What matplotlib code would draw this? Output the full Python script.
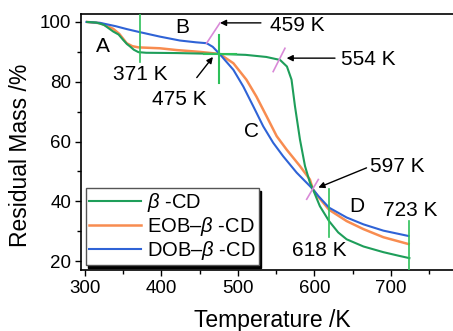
import matplotlib
matplotlib.use('Agg')
import matplotlib.pyplot as plt
from matplotlib.ticker import MultipleLocator

plt.rcParams['font.family'] = ['Liberation Sans', 'DejaVu Sans']
plt.rcParams['mathtext.fontset'] = 'custom'
plt.rcParams['mathtext.it'] = 'Liberation Sans:italic'

# beta-CD
temp_cd = [303, 315, 325, 337, 344, 350, 355, 359, 364, 370, 380, 420, 476, 510,
           537, 555, 564, 570, 574.5, 581, 587.6, 594, 598, 607, 619, 631, 642,
           664, 690, 710, 724]
mass_cd = [100, 99.8, 99.0, 96.8, 95.8, 94.0, 92.6, 91.8, 90.7, 89.9, 89.7, 89.6,
           89.3, 89.0, 88.3, 87.3, 85.1, 80.7, 71.8, 60.7, 51.8, 46.3, 44.0, 38.4,
           33.4, 29.6, 27.3, 24.9, 23.0, 21.8, 21.0]

# EOB-beta-CD
temp_eob = [303, 320, 337, 345, 354.5, 362, 370, 398, 420, 450, 476, 494, 511,
            524, 537.5, 550.6, 563.6, 581, 594, 598, 605, 619, 642, 664, 690, 723]
mass_eob = [100, 99.6, 97.7, 96.0, 92.9, 91.9, 91.5, 91.2, 90.6, 90.0, 89.3,
            86.2, 80.7, 75.1, 68.4, 61.8, 57.3, 51.8, 47.3, 44.0, 41.5, 37.2,
            33.4, 30.7, 28.0, 25.7]

# DOB-beta-CD
temp_dob = [302, 320, 340, 355, 370, 398, 424, 445, 459, 467, 476, 494, 507,
            520, 533, 546, 559, 576.7, 594, 598, 605, 619, 642, 664, 690, 723]
mass_dob = [100, 99.7, 98.6, 97.6, 96.7, 95.1, 93.8, 93.2, 92.9, 91.7, 89.3,
            84.0, 78.4, 71.8, 65.1, 59.6, 55.1, 49.6, 45.1, 44.0, 41.8, 37.9,
            34.6, 32.3, 30.2, 28.4]

series_labels = ['$\\beta$ -CD', 'EOB\u2013$\\beta$ -CD', 'DOB\u2013$\\beta$ -CD']

green = '#1e9e5a'
orange = '#f88c50'
blue = '#2f63d6'
pink = '#d98ad8'
mark_green = '#2ec05a'

fig = plt.figure(figsize=(4.53, 3.31), dpi=100)
ax = fig.add_axes([0.179, 0.184, 0.821, 0.774])

ax.plot(temp_cd, mass_cd, color=green, lw=1.5, label=series_labels[0], zorder=3)
ax.plot(temp_eob, mass_eob, color=orange, lw=1.8, label=series_labels[1], zorder=2)
ax.plot(temp_dob, mass_dob, color=blue, lw=1.5, label=series_labels[2], zorder=2)

# marker lines
ax.plot([372, 372], [86.6, 102.7], color=mark_green, lw=1.2, zorder=4)
ax.plot([475.5, 475.5], [79.7, 95.7], color=mark_green, lw=1.5, zorder=4)
ax.plot([455, 497], [89.3, 89.3], color=mark_green, lw=1.5, zorder=4)
ax.plot([619.4, 619.4], [28.0, 44.0], color=mark_green, lw=1.2, zorder=4)
ax.plot([724, 724], [17, 33.4], color=mark_green, lw=1.2, zorder=4)
ax.plot([459, 476.5], [92.9, 99.7], color=pink, lw=1.2, zorder=4)
ax.plot([546, 561.4], [83.4, 91.2], color=pink, lw=1.2, zorder=4)
ax.plot([589.8, 605], [40.7, 47.3], color=pink, lw=1.2, zorder=4)

fs = 15
ax.text(323.5, 91.7, 'A', fontsize=fs, ha='center', va='center')
ax.text(427, 98, 'B', fontsize=fs, ha='center', va='center')
ax.text(518, 63.4, 'C', fontsize=fs, ha='center', va='center')
ax.text(655, 38.4, 'D', fontsize=fs, ha='center', va='center')
ax.text(373, 82.3, '371 K', fontsize=fs, ha='center', va='center')
ax.text(606, 23.7, '618 K', fontsize=fs, ha='center', va='center')
ax.text(725, 37.1, '723 K', fontsize=fs, ha='center', va='center')

arrow = dict(arrowstyle='-|>', color='black', lw=1.0, mutation_scale=9)
ax.annotate('475 K', xy=(467.3, 88.3), xytext=(423.5, 74), fontsize=fs,
            ha='center', va='center', arrowprops=dict(arrow, shrinkA=9, shrinkB=0))
ax.annotate('', xy=(476.5, 99.7), xytext=(530, 99.7), arrowprops=dict(arrow, shrinkA=0, shrinkB=0))
ax.text(577.8, 98.7, '459 K', fontsize=fs, ha='center', va='center')
ax.annotate('', xy=(563.6, 87.9), xytext=(626.8, 87.9), arrowprops=dict(arrow, shrinkA=0, shrinkB=0))
ax.text(670, 87.3, '554 K', fontsize=fs, ha='center', va='center')
ax.annotate('', xy=(605, 44.6), xytext=(668, 51.2), arrowprops=dict(arrow, shrinkA=0, shrinkB=0))
ax.text(708.5, 51.6, '597 K', fontsize=fs, ha='center', va='center')

ax.set_xlim(295, 781)
ax.set_ylim(17, 102.7)
ax.xaxis.set_major_locator(MultipleLocator(100))
ax.xaxis.set_minor_locator(MultipleLocator(50))
ax.yaxis.set_major_locator(MultipleLocator(20))
ax.yaxis.set_minor_locator(MultipleLocator(10))
ax.tick_params(which='both', direction='out', top=False, right=False, labelsize=13.5, width=1)
ax.tick_params(which='major', length=4.5, pad=2.5)
ax.tick_params(which='minor', length=3)
ax.spines['right'].set_visible(False)
for side in ['left', 'bottom', 'top']:
    ax.spines[side].set_linewidth(1.2)

ax.set_xlabel('Temperature /K', fontsize=16.5, va='center')
ax.xaxis.set_label_coords(0.513, -0.195)
ax.set_ylabel('Residual Mass /%', fontsize=16.5, va='center')
ax.yaxis.set_label_coords(-0.164, 0.449)

leg = ax.legend(loc='lower left', bbox_to_anchor=(0.012, 0.02), fontsize=14.5,
                handlelength=2.6, handletextpad=0.3, borderpad=0.15,
                labelspacing=0.05, borderaxespad=0, fancybox=False,
                shadow={'color': 'black', 'alpha': 1}, framealpha=1)
leg.get_frame().set_edgecolor('#555555')
leg.get_frame().set_linewidth(1.0)

fig.savefig('out.png', dpi=100)
